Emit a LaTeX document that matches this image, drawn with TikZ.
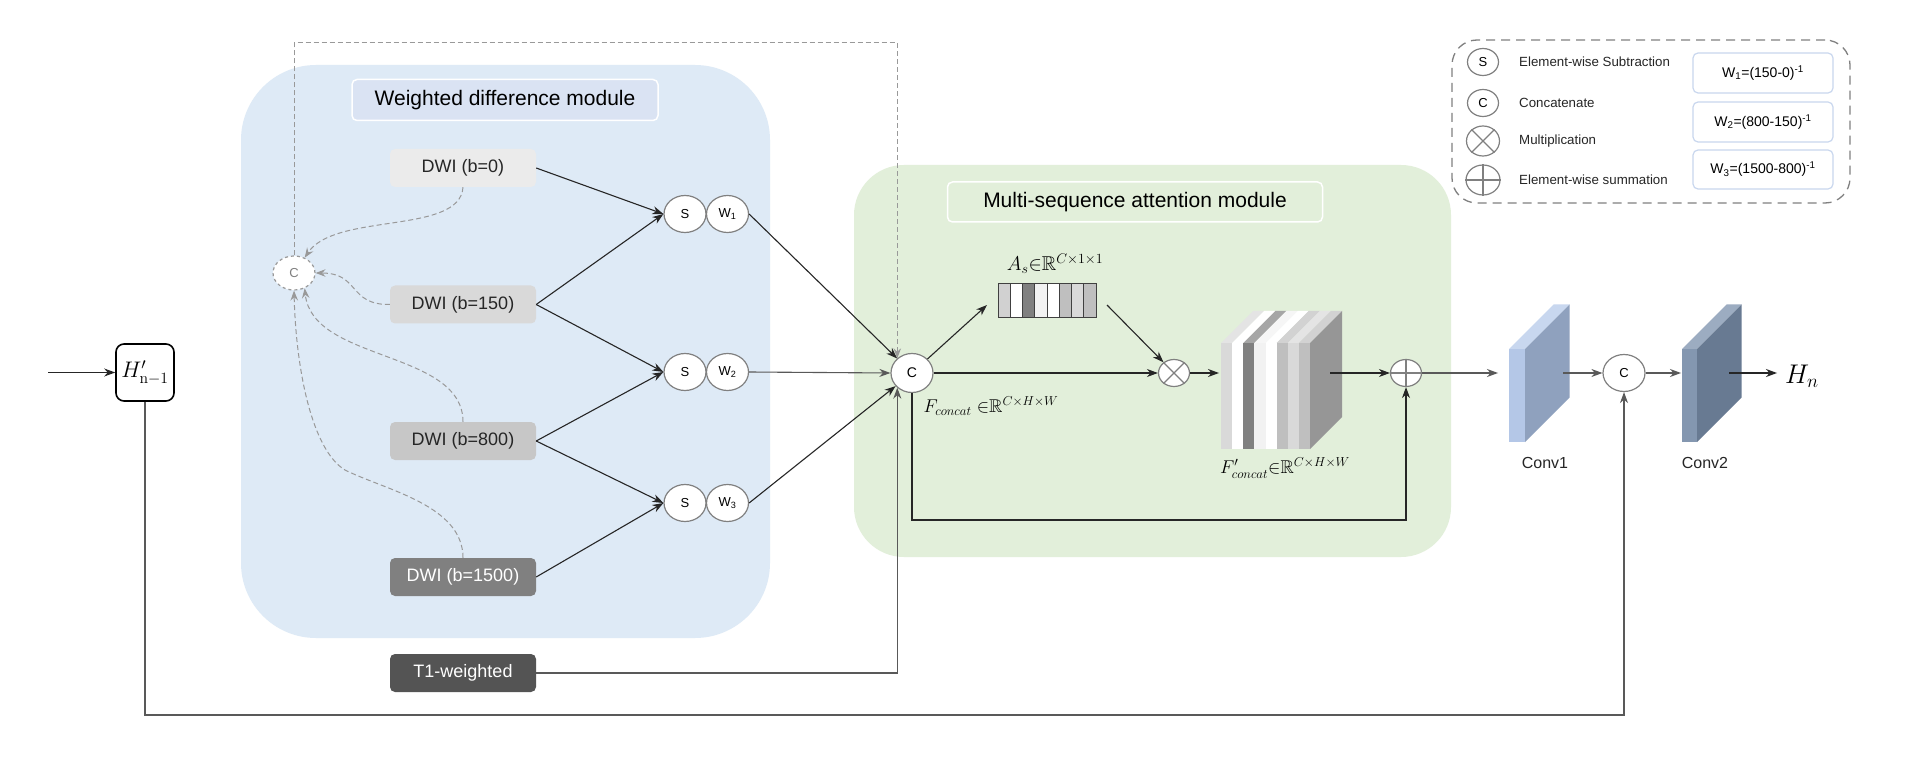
\RequirePackage{fix-cm}
\documentclass[tikz,border=0pt]{standalone}
\usepackage{amssymb}
\usepackage[no-math]{fontspec}
\setmainfont{Liberation Sans}
\usetikzlibrary{arrows.meta,calc,shapes.geometric}
\definecolor{bluepanel}{HTML}{DEEAF6}
\definecolor{bluetitle}{HTML}{DAE3F3}
\definecolor{greenpanel}{HTML}{E2EFDA}
\definecolor{legedge}{HTML}{C9D7EE}
\definecolor{convafront}{HTML}{B4C7E7}
\definecolor{convatop}{HTML}{C8D7EF}
\definecolor{convaside}{HTML}{8FA1BE}
\definecolor{convbfront}{HTML}{8497B0}
\definecolor{convbtop}{HTML}{9CACC1}
\definecolor{convbside}{HTML}{687A92}
\begin{document}
\begin{tikzpicture}[x=1pt,y=-1pt,
  titlebox/.style={draw=white,line width=1.5pt,rounded corners=5pt,inner sep=0pt,font=\fontsize{21}{24}\selectfont},
  dwibox/.style={rounded corners=5pt,minimum width=146pt,minimum height=38pt,inner sep=0pt,font=\fontsize{18}{20}\selectfont},
  opc/.style={ellipse,draw=black!50,line width=1.2pt,fill=white,minimum width=42pt,minimum height=37pt,inner sep=0pt,font=\fontsize{13}{14}\selectfont},
  arr/.style={-{Stealth[length=11pt,width=8pt,inset=3.5pt]},line width=1.1pt,draw=black!85},
  arrg/.style={-{Stealth[length=11pt,width=8pt,inset=3.5pt]},line width=1.1pt,draw=black!65},
  dsh/.style={draw=black!40,line width=1pt,dash pattern=on 5pt off 3pt,-{Stealth[length=10pt,width=7.5pt,inset=3.5pt]}},
  legtext/.style={anchor=west,inner sep=0pt,font=\fontsize{13.3}{15}\selectfont,text=black!85},
  wbox/.style={draw=legedge,line width=1.2pt,fill=white,rounded corners=5pt,minimum width=140pt,minimum height=40pt,inner sep=0pt,font=\fontsize{14}{16}\selectfont},
  mlabel/.style={inner sep=0pt,font=\fontsize{18.5}{20}\selectfont}
]
\fill[white] (0,0) rectangle (1923,767);
\useasboundingbox (0,0) rectangle (1923,767);

% panels
\fill[bluepanel,rounded corners=75pt] (241,65) rectangle (770,638);
\fill[greenpanel,rounded corners=50pt] (854,165) rectangle (1451,557);

\node[titlebox,fill=bluetitle,minimum width=306pt,minimum height=41pt] (wdmt) at (505,100) {Weighted difference module};
\node[titlebox,fill=greenpanel,minimum width=375pt,minimum height=40pt] (msat) at (1135,202) {Multi-sequence attention module};

% inputs
\node[dwibox,fill=black!8,text=black!85] (d0) at (463,168) {DWI (b=0)};
\node[dwibox,fill=black!15,text=black!85] (d150) at (463,304.5) {DWI (b=150)};
\node[dwibox,fill=black!22,text=black!85] (d800) at (463,441) {DWI (b=800)};
\node[dwibox,fill=black!50,text=white] (d1500) at (463,577) {DWI (b=1500)};
\node[dwibox,fill=black!67,text=white] (t1) at (463,673) {T1-weighted};

% small concat
\node[opc,draw=black!40,dashed,text=black!50,minimum height=34pt] (sc) at (294,273) {C};

% S / W
\node[opc] (s1) at (685,214) {S};
\node[opc] (w1) at (727.5,214) {W\textsubscript{1}};
\node[opc] (s2) at (685,372) {S};
\node[opc] (w2) at (727.5,372) {W\textsubscript{2}};
\node[opc] (s3) at (685,503) {S};
\node[opc] (w3) at (727.5,503) {W\textsubscript{3}};

% big concat
\node[opc,minimum height=39pt,font=\fontsize{14}{15}\selectfont] (bc) at (912,373) {C};

% H' box
\node[draw=black,line width=1.6pt,rounded corners=8pt,minimum width=58pt,minimum height=57pt,inner sep=0pt,font=\fontsize{22.5}{24}\selectfont] (hb) at (145,372.5) {$H'_{\mathrm{n-1}}$};
\coordinate (hin) at (48,372.5);

% attention strip
\foreach \i/\p in {0/18,1/0,2/50,3/5,4/0,5/25,6/15,7/25}{
  \filldraw[fill=black!\p,draw=black!75,line width=0.8pt] (998+\i*12.25,283) rectangle (998+\i*12.25+12.25,317);
}
\node[minimum width=98pt,minimum height=34pt,inner sep=0pt] (as) at (1047,300) {};
\node[mlabel,font=\fontsize{20}{22}\selectfont] (asl) at (1055,264) {$A_s{\in}\mathbb{R}^{C\times 1\times 1}$};
\coordinate (asin) at (987,305);
\coordinate (asout) at (1107,305);

% multiply / plus
\node[opc,minimum width=31pt,minimum height=27pt] (mul) at (1174,373) {};
\draw[black!50,line width=1.2pt] (mul.45) -- (mul.225) (mul.135) -- (mul.315);
\node[opc,minimum width=31pt,minimum height=27pt] (plus) at (1406,373) {};
\draw[black!50,line width=1.2pt] (plus.north) -- (plus.south) (plus.west) -- (plus.east);

% cube
\foreach \i/\p in {0/15,1/0,2/50,3/5,4/0,5/25,6/15,7/25}{
  \pgfmathsetmacro\q{0.7*\p}
  \fill[black!\q] (1221+\i*11.125,343) -- (1221+\i*11.125+11.125,343) -- (1253+\i*11.125+11.125,311) -- (1253+\i*11.125,311) -- cycle;
  \fill[black!\p] (1221+\i*11.125,343) rectangle (1221+\i*11.125+11.125,449);
}
\fill[black!41] (1310,343) -- (1342,311) -- (1342,417) -- (1310,449) -- cycle;
\node[minimum width=89pt,minimum height=106pt,inner sep=0pt] (cube) at (1265.5,396) {};
\coordinate (cubein) at (1219,373);
\coordinate (cubeout) at (1330,373);

\node[mlabel] (fcl) at (991,406) {$F_{concat}\ {\in}\mathbb{R}^{C\times H\times W}$};
\node[mlabel] (fcpl) at (1285,468) {$F'_{concat}{\in}\mathbb{R}^{C\times H\times W}$};

% conv slabs
\fill[convafront] (1509,349) rectangle (1525,442);
\fill[convatop] (1509,349) -- (1525,349) -- (1569.5,304.5) -- (1553.5,304.5) -- cycle;
\fill[convaside] (1525,349) -- (1569.5,304.5) -- (1569.5,397.5) -- (1525,442) -- cycle;
\fill[convbfront] (1682,349) rectangle (1697,442);
\fill[convbtop] (1682,349) -- (1697,349) -- (1741.5,304.5) -- (1726.5,304.5) -- cycle;
\fill[convbside] (1697,349) -- (1741.5,304.5) -- (1741.5,397.5) -- (1697,442) -- cycle;
\node[inner sep=0pt,font=\fontsize{16}{18}\selectfont,text=black!85] (cv1) at (1545,463) {Conv1};
\node[inner sep=0pt,font=\fontsize{16}{18}\selectfont,text=black!85] (cv2) at (1705,463) {Conv2};
\coordinate (c1in) at (1498,373);
\coordinate (c1out) at (1563,373);
\coordinate (c2in) at (1681,373);
\coordinate (c2out) at (1729,373);

\node[opc] (c3) at (1624,373) {C};
\node[anchor=west,inner sep=0pt,font=\fontsize{27}{29}\selectfont] (hn) at (1785,376) {$H_n$};
\coordinate (hnin) at (1777,373);

% legend
\node[draw=black!50,rounded corners=25pt,minimum width=398pt,minimum height=163pt,line width=1.3pt,dash pattern=on 9pt off 6pt,inner sep=0pt] (legend) at (1651,121.5) {};
\node[opc,minimum width=31pt,minimum height=27pt] (ls) at (1483,62) {S};
\node[legtext] (lst) at (1519,62) {Element-wise Subtraction};
\node[opc,minimum width=31pt,minimum height=27pt] (lc) at (1483,103) {C};
\node[legtext] (lct) at (1519,103) {Concatenate};
\node[opc,minimum width=33pt,minimum height=30pt] (lm) at (1483,141) {};
\draw[black!50,line width=1.2pt] (lm.45) -- (lm.225) (lm.135) -- (lm.315);
\node[legtext] (lmt) at (1519,141) {Multiplication};
\node[opc,minimum width=34pt,minimum height=30pt] (lp) at (1483,180) {};
\draw[black!50,line width=1.2pt] (lp.north) -- (lp.south) (lp.west) -- (lp.east);
\node[legtext] (lpt) at (1519,180) {Element-wise summation};
\node[wbox] (lw1) at (1763,73) {W\textsubscript{1}=(150-0)\textsuperscript{-1}};
\node[wbox] (lw2) at (1763,122) {W\textsubscript{2}=(800-150)\textsuperscript{-1}};
\node[wbox,minimum height=39pt] (lw3) at (1763,169.5) {W\textsubscript{3}=(1500-800)\textsuperscript{-1}};

% dashed curves
\coordinate (topy) at (0,43);
\draw[dsh] (sc.north) -- (sc.north |- topy) -| (bc.135);
\draw[dsh] (d0.south) .. controls (460,235) and (335,212) .. (sc.55);
\draw[dsh] (d150.west) .. controls (348,305) and (360,273) .. (sc.east);
\draw[dsh] (d800.north) .. controls (463,350) and (312,362) .. (sc.-55);
\draw[dsh] (d1500.north) .. controls (463,505) and (385,490) .. (345,470) .. controls (312,450) and (296,370) .. (sc.south);

% solid connectors
\draw[arr] (d0.east) -- (s1.west);
\draw[arr] (d150.east) -- (s1.west);
\draw[arr] (d150.east) -- (s2.west);
\draw[arr] (d800.east) -- (s2.west);
\draw[arr] (d800.east) -- (s3.west);
\draw[arr] (d1500.east) -- (s3.west);
\draw[arr] (w1.east) -- (bc);
\draw[arrg] (w2.east) -- (bc.west);
\draw[arr] (w3.east) -- (bc);
\draw[arrg] (t1.east) -| (bc.225);
\draw[arr] (bc) -- (asin);
\draw[arr] (asout) -- (mul);
\draw[arr] (bc.east) -- (mul.west);
\draw[arr] (mul.east) -- (cubein);
\draw[arr] (cubeout) -- (plus.west);
\coordinate (skipy) at (0,520);
\draw[arr] (bc.south) -- (bc.south |- skipy) -| (plus.south);
\draw[arrg] (plus.east) -- (c1in);
\draw[arrg] (c1out) -- (c3.west);
\draw[arrg] (c3.east) -- (c2in);
\draw[arr] (c2out) -- (hnin);
\draw[arr] (hin) -- (hb.west);
\coordinate (hy) at (0,715);
\draw[arrg] (hb.south) -- (hb.south |- hy) -| (c3.south);
\end{tikzpicture}
\end{document}
